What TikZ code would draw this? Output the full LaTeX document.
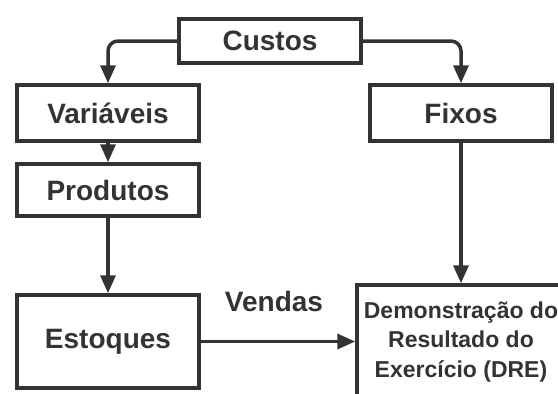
\documentclass[tikz,border=0pt]{standalone}
\usepackage{fontspec}
\setmainfont{Liberation Sans}
\usetikzlibrary{arrows.meta}
\definecolor{cinza}{HTML}{333333}

\begin{document}
\begin{tikzpicture}[x=1pt,y=-1pt,color=cinza,line width=3.5pt,
	caixa/.style={draw,inner sep=0pt,minimum width=182pt,font=\fontsize{28}{34}\selectfont\bfseries},
	seta/.style={-{Triangle[length=18pt,width=15pt]}}]
			\useasboundingbox (0,0) rectangle (558,394);
			\clip (0,0) rectangle (558,394);
			\node[caixa,minimum height=44pt] (custos) at (270,41) {Custos};
			\node[caixa,minimum height=56pt] (variaveis) at (108,113) {Variáveis};
			\node[caixa,minimum height=56pt] (fixos) at (461,113) {Fixos};
			\node[caixa,minimum height=52pt] (produtos) at (108,190) {Produtos};
			\node[caixa,minimum height=93pt] (estoques) at (108,341.5) {Estoques};
			\node[caixa,minimum width=208pt,minimum height=114pt,align=center,
				font=\fontsize{23}{29.5}\selectfont\bfseries] (dre) at (461,342)
				{Demonstração do\\Resultado do\\Exercício (DRE)};
			\draw[seta,rounded corners=10pt] (custos.west) -| (variaveis.north);
			\draw[seta,rounded corners=10pt] (custos.east) -| (fixos.north);
			\draw[seta] (variaveis) -- (produtos);
			\draw[seta] (produtos) -- (estoques);
			\draw[seta] (fixos) -- (dre);
			\draw[seta] (estoques.east) -- (estoques.east -| dre.west)
				node[midway,above=25pt,xshift=-4pt,font=\fontsize{28}{34}\selectfont\bfseries] (vendas) {Vendas};

\end{tikzpicture}
\end{document}
